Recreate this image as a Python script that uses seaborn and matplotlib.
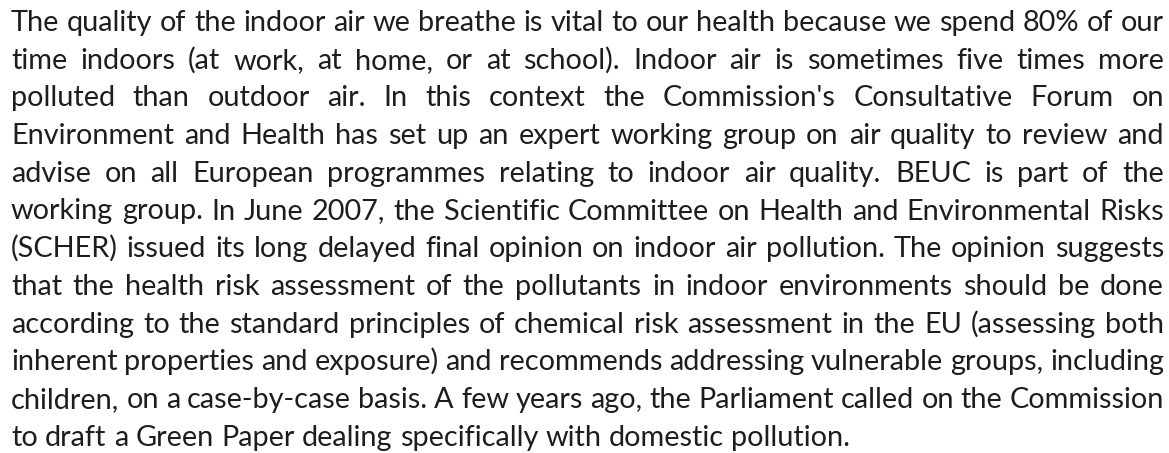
import matplotlib
matplotlib.use("Agg")
import matplotlib.pyplot as plt
import seaborn as sns

# paragraph lines, as broken in the reference
lines = [
    "The quality of the indoor air we breathe is vital to our health because we spend 80% of our",
    "time indoors (at work, at home, or at school). Indoor air is sometimes five times more",
    "polluted than outdoor air. In this context the Commission's Consultative Forum on",
    "Environment and Health has set up an expert working group on air quality to review and",
    "advise on all European programmes relating to indoor air quality. BEUC is part of the",
    "working group. In June 2007, the Scientific Committee on Health and Environmental Risks",
    "(SCHER) issued its long delayed final opinion on indoor air pollution. The opinion suggests",
    "that the health risk assessment of the pollutants in indoor environments should be done",
    "according to the standard principles of chemical risk assessment in the EU (assessing both",
    "inherent properties and exposure) and recommends addressing vulnerable groups, including",
    "children, on a case-by-case basis. A few years ago, the Parliament called on the Commission",
    "to draft a Green Paper dealing specifically with domestic pollution.",
]

W, H = 1169, 453
left, right = 11, 1164
first_base, line_gap = 31, 37.7
last_width = 844
color = "#1d1d1b"
font = "Lato"

sns.set_theme(style="white")
plt.rcParams["font.family"] = [font, "DejaVu Sans"]

fig = plt.figure(figsize=(W / 100, H / 100), dpi=100)
ax = fig.add_axes([0, 0, 1, 1])
ax.set_xlim(0, W)
ax.set_ylim(H, 0)
ax.set_axis_off()
renderer = fig.canvas.get_renderer()


def width_of(s, size):
    t = ax.text(0, 0, s, fontsize=size)
    w = t.get_window_extent(renderer).width
    t.remove()
    return w


# fit the font size to the width of the (unjustified) last line
size = 16.0
size = size * last_width / width_of(lines[-1], size)
space = width_of("a a", size) - width_of("aa", size)

for i, line in enumerate(lines):
    y = first_base + i * line_gap
    words = line.split(" ")
    widths = [width_of(w, size) for w in words]
    if i == len(lines) - 1:
        gap = space
    else:
        gap = (right - left - sum(widths)) / (len(words) - 1)
    x = left
    for w, wd in zip(words, widths):
        ax.text(x, y, w, fontsize=size, color=color, ha="left", va="baseline")
        x += wd + gap

fig.savefig("out.png", dpi=100, facecolor="white")
